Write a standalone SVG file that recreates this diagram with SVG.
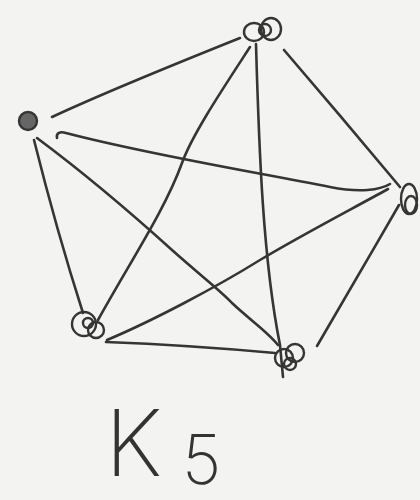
<svg xmlns="http://www.w3.org/2000/svg" width="420" height="500" viewBox="0 0 420 500">
<style>
.e{fill:none;stroke:#353535;stroke-width:2.6;stroke-linecap:round;stroke-linejoin:round}
.n{fill:none;stroke:#353535;stroke-width:2.4}
.lbl{font-family:Inter,"Liberation Sans",sans-serif;font-weight:200;fill:#333}
</style>
<rect width="420" height="500" fill="#f3f3f1"/>
<g id="edges">
<path class="e" d="M240,38 C180,62 110,90 52,117"/>
<path class="e" d="M284,50 C320,92 365,145 400,187"/>
<path class="e" d="M399,205 C372,252 345,298 317,346"/>
<path class="e" d="M34,140 C48,196 66,260 83,313"/>
<path class="e" d="M37,138 C80,170 130,212 172,250 C200,275 222,292 232,303 C250,320 268,332 278,345"/>
<path class="e" d="M57,138 C56,133 60,131 66,133 C150,155 255,172 330,187 C360,193 380,190 390,184"/>
<path class="e" d="M250,47 C222,90 192,135 182,163 C165,210 130,262 98,320"/>
<path class="e" d="M256,44 C259,150 263,260 280,345 L283,377"/>
<path class="e" d="M388,189 C350,210 300,236 260,260 C215,288 150,322 107,340"/>
<path class="e" d="M106,342 C160,344 220,348 275,353"/>
</g>
<g id="node-top">
<ellipse class="n" cx="254" cy="32" rx="10" ry="9"/>
<ellipse class="n" cx="271" cy="29" rx="10" ry="11"/>
<ellipse class="n" cx="265" cy="30" rx="6" ry="6"/>
</g>
<g id="node-left">
<circle cx="28" cy="121" r="9" fill="#666" stroke="#353535" stroke-width="2.4"/>
</g>
<g id="node-right">
<ellipse class="n" cx="409" cy="199" rx="8" ry="15"/>
<ellipse class="n" cx="411" cy="205" rx="6" ry="9"/>
</g>
<g id="node-bottom-left">
<circle class="n" cx="84" cy="324" r="12"/>
<circle class="n" cx="96" cy="330" r="8"/>
<circle class="n" cx="88" cy="323" r="5"/>
</g>
<g id="node-bottom-right">
<circle class="n" cx="284" cy="358" r="9"/>
<circle class="n" cx="295" cy="353" r="9"/>
<circle class="n" cx="290" cy="364" r="6"/>
</g>
<g id="label">
<text class="lbl" x="105" y="476" font-size="92">K</text>
<text class="lbl" x="182" y="484" font-size="68">5</text>
</g>
</svg>
